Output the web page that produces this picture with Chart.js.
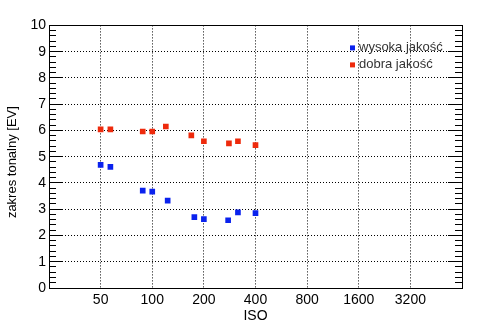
<!DOCTYPE html>
<html>
<head>
<meta charset="utf-8">
<style>
  html, body { margin: 0; padding: 0; background: #fff; }
  canvas { display: block; }
</style>
<script src="https://cdn.jsdelivr.net/npm/chart.js@4/dist/chart.umd.min.js"></script>
</head>
<body>
<canvas id="c" width="494" height="331"></canvas>
<script>
// ISO sensitivity and measured tonal range (EV)
const isoTicks = [50, 100, 200, 400, 800, 1600, 3200];

const seriesNames = ['wysoka jakość', 'dobra jakość'];
const seriesColors = ['#0a22ee', '#ee2a0c'];

const isoHigh = [50, 57, 88, 100, 123, 176, 200, 277, 316, 400];
const evHigh  = [4.69, 4.61, 3.71, 3.67, 3.33, 2.70, 2.62, 2.58, 2.88, 2.85];

const isoGood = [50, 57, 88, 100, 120, 169, 200, 280, 316, 400];
const evGood  = [6.04, 6.04, 5.96, 5.96, 6.15, 5.81, 5.59, 5.51, 5.59, 5.44];

const FONT = "'Liberation Sans', Arial, sans-serif";

function points(xs, ys) {
  return xs.map((x, i) => ({ x: x, y: ys[i] }));
}

// Legend drawn inside the plot, in its upper right corner
const insideLegend = {
  id: 'insideLegend',
  afterDatasetsDraw(chart) {
    const { ctx, chartArea } = chart;
    const x0 = chartArea.right - 112;
    ctx.save();
    ctx.font = '13px ' + FONT;
    ctx.textBaseline = 'alphabetic';
    ctx.textAlign = 'left';
    chart.data.datasets.forEach((ds, i) => {
      const yc = chartArea.top + 22 + i * 17;
      ctx.fillStyle = ds.backgroundColor;
      ctx.fillRect(x0, yc - 2, 5, 5);
      ctx.fillStyle = '#333';
      ctx.fillText(ds.label, x0 + 9, yc + 4);
    });
    ctx.restore();
  }
};

const yRange = { min: 0, max: 10 };

function minorAxis(position) {
  return {
    type: 'linear', position: position, weight: 0,
    min: yRange.min, max: yRange.max,
    ticks: { display: false, stepSize: 0.2 },
    grid: { drawOnChartArea: false, drawTicks: true, tickLength: -7, color: '#000', tickColor: '#000' },
    border: { display: false },
    afterFit: s => { s.width = 0; }
  };
}

new Chart(document.getElementById('c'), {
  type: 'scatter',
  data: {
    datasets: [
      {
        label: seriesNames[0],
        data: points(isoHigh, evHigh),
        backgroundColor: seriesColors[0],
        borderColor: seriesColors[0],
        borderWidth: 0,
        pointStyle: 'rect',
        pointRadius: 4,
        xAxisID: 'x', yAxisID: 'y'
      },
      {
        label: seriesNames[1],
        data: points(isoGood, evGood),
        backgroundColor: seriesColors[1],
        borderColor: seriesColors[1],
        borderWidth: 0,
        pointStyle: 'rect',
        pointRadius: 4,
        xAxisID: 'x', yAxisID: 'y'
      }
    ]
  },
  options: {
    responsive: false,
    animation: false,
    devicePixelRatio: 1,
    layout: { padding: { top: 22, right: 32, bottom: 0, left: 0 } },
    plugins: {
      legend: { display: false },
      tooltip: { enabled: false }
    },
    scales: {
      x: {
        type: 'logarithmic', position: 'bottom',
        min: 25, max: 6400,
        afterBuildTicks: s => { s.ticks = isoTicks.map(v => ({ value: v })); },
        ticks: {
          autoSkip: false, maxRotation: 0,
          color: '#000', font: { family: FONT, size: 14 }, padding: 4,
          callback: v => String(v)
        },
        grid: { color: '#000', lineWidth: 1, drawTicks: false },
        border: { display: true, color: '#000', width: 1, dash: [1, 2] },
        title: {
          display: true, text: 'ISO', color: '#000',
          font: { family: FONT, size: 14 }, padding: { top: 0, bottom: 6 }
        },
        afterFit: s => { s.height = 43; }
      },
      xTop: {
        type: 'logarithmic', position: 'top',
        min: 25, max: 6400,
        ticks: { display: false },
        grid: { display: false, drawTicks: false },
        border: { display: true, color: '#000', width: 1 },
        afterFit: s => { s.height = 0; }
      },
      y: {
        type: 'linear', position: 'left', weight: 1,
        min: yRange.min, max: yRange.max,
        ticks: {
          stepSize: 1, color: '#000', padding: 17,
          font: { family: FONT, size: 14 }
        },
        grid: { color: '#000', lineWidth: 1, drawTicks: true, tickLength: -14, tickColor: '#000' },
        border: { display: true, color: '#000', width: 1, dash: [1, 2] },
        title: {
          display: true, text: 'zakres tonalny [EV]   ', color: '#000',
          font: { family: FONT, size: 13 }, padding: { top: 5, bottom: 0 }
        },
        afterFit: s => { s.width = 49; }
      },
      yMinor: minorAxis('left'),
      yRight: {
        type: 'linear', position: 'right', weight: 1,
        min: yRange.min, max: yRange.max,
        ticks: { display: false, stepSize: 1 },
        grid: { drawOnChartArea: false, drawTicks: true, tickLength: -14, tickColor: '#000' },
        border: { display: true, color: '#000', width: 1 },
        afterFit: s => { s.width = 0; }
      },
      yRightMinor: minorAxis('right')
    }
  },
  plugins: [insideLegend]
});
</script>
</body>
</html>
